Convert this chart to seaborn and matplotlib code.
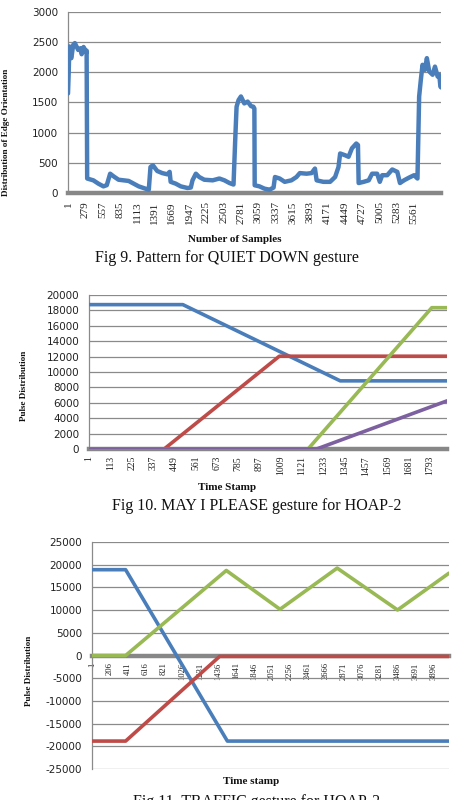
import numpy as np
import pandas as pd
import matplotlib
matplotlib.use("Agg")
import matplotlib.pyplot as plt
import seaborn as sns

# ---- Fig 9: QUIET DOWN (edge orientation per sample) ----
quiet_points = [
    (1, 1650), (12, 1985), (23, 2430), (34, 2280), (55, 2235), (84, 2455), (111, 2485),
    (165, 2370), (203, 2400), (220, 2300), (238, 2345), (251, 2420), (277, 2370),
    (296, 2330), (300, 2360), (309, 240), (408, 210), (489, 155), (570, 110), (624, 130),
    (678, 320), (732, 277), (813, 220), (975, 200), (1056, 155), (1137, 110), (1245, 72),
    (1299, 55), (1326, 430), (1364, 460), (1434, 365), (1515, 330), (1596, 310),
    (1634, 350), (1650, 185), (1731, 155), (1812, 110), (1920, 83), (1974, 90),
    (2001, 210), (2055, 320), (2109, 265), (2190, 220), (2325, 210), (2433, 240),
    (2514, 210), (2595, 165), (2660, 140), (2687, 875), (2709, 1430), (2741, 1540),
    (2779, 1600), (2833, 1485), (2887, 1515), (2941, 1440), (2979, 1430), (2995, 1400),
    (3000, 128), (3076, 110), (3157, 72), (3238, 55), (3303, 90), (3326, 265),
    (3401, 240), (3482, 185), (3590, 210), (3671, 265), (3725, 330), (3833, 320),
    (3914, 330), (3968, 405), (3995, 210), (4103, 185), (4211, 185), (4292, 265),
    (4346, 430), (4373, 655), (4454, 625), (4508, 600), (4562, 740), (4632, 820),
    (4659, 795), (4670, 165), (4751, 185), (4832, 210), (4886, 320), (4967, 320),
    (5010, 185), (5048, 295), (5129, 295), (5210, 390), (5291, 350), (5334, 165),
    (5399, 210), (5480, 255), (5561, 295), (5615, 240), (5642, 1600), (5669, 1875),
    (5696, 2125), (5734, 2040), (5766, 2235), (5804, 2015), (5858, 1960), (5896, 2095),
    (5939, 1930), (5966, 1960), (5983, 1765), (5993, 1750),
]
quiet_samples = [p[0] for p in quiet_points]
quiet_values = [p[1] for p in quiet_points]
quiet_ticks = list(range(1, 5562, 278))

# ---- Fig 10: MAY I PLEASE ----
may_series = ["S1", "S2", "S3", "S4"]
may_time = {
    "S1": [1, 494, 1321, 1882],
    "S2": [1, 396, 1001, 1882],
    "S3": [1, 1152, 1802, 1882],
    "S4": [1, 1197, 1882],
}
may_value = {
    "S1": [18750, 18750, 8850, 8850],
    "S2": [0, 0, 12050, 12050],
    "S3": [0, 0, 18350, 18350],
    "S4": [0, 0, 6250],
}
may_ticks = list(range(1, 1794, 112))

# ---- Fig 11: TRAFFIC ----
traffic_series = ["S1", "S2", "S3"]
traffic_time = {
    "S1": [1, 384, 1543, 4068],
    "S2": [1, 384, 1455, 4068],
    "S3": [1, 384, 1531, 2143, 2794, 3482, 4068],
}
traffic_value = {
    "S1": [18900, 18900, -18850, -18850],
    "S2": [-18850, -18850, -200, -200],
    "S3": [0, 0, 18730, 10180, 19250, 10030, 18140],
}
traffic_ticks = list(range(1, 3897, 205))

blue, red, green, purple = "#4A7EBB", "#BE4B48", "#98B954", "#7D60A0"
grid_c = "#8a8a8a"
bar_c = "#878787"

sns.set_style("white")
plt.rcParams["font.family"] = ["DejaVu Sans"]

W, H = 454, 800
fig = plt.figure(figsize=(W / 100, H / 100), dpi=100)


def px_axes(left, top, right, bottom):
    return fig.add_axes([left / W, 1 - bottom / H, (right - left) / W, (bottom - top) / H])


def long_frame(series, times, values):
    rows = []
    for s in series:
        for t, v in zip(times[s], values[s]):
            rows.append((s, t, v))
    return pd.DataFrame(rows, columns=["series", "time", "value"])


def style(ax, yticks, xticks, ytick_size, xtick_size, xpad):
    # spine position first: moving the spine resets the tick objects
    for s in ["top", "right"]:
        ax.spines[s].set_visible(False)
    ax.spines["left"].set_color(grid_c)
    ax.spines["left"].set_linewidth(0.9)
    ax.spines["bottom"].set_position(("data", 0))
    ax.spines["bottom"].set_color(bar_c)
    ax.spines["bottom"].set_linewidth(3.2)
    ax.spines["bottom"].set_zorder(1.5)
    ax.set_yticks(yticks)
    ax.set_yticklabels([str(t) for t in yticks], fontsize=ytick_size, color="#222222")
    ax.set_xticks(xticks)
    ax.set_xticklabels([str(t) for t in xticks], rotation=90, fontsize=xtick_size,
                       family="Liberation Serif", color="#222222")
    ax.grid(axis="y", color=grid_c, lw=0.9)
    ax.grid(axis="x", visible=False)
    ax.set_axisbelow(True)
    ax.tick_params(axis="y", length=3, color=grid_c, pad=4)
    ax.tick_params(axis="x", length=0, pad=xpad)
    ax.set_xlabel("")
    ax.set_ylabel("")


# Panel 1
ax1 = px_axes(68, 12, 441, 193)
sns.lineplot(x=quiet_samples, y=quiet_values, ax=ax1, color=blue, lw=3.2,
             estimator=None, sort=False, zorder=3)
ax1.set_xlim(1, 5993)
ax1.set_ylim(0, 3000)
style(ax1, list(range(0, 3001, 500)), quiet_ticks, 7.5, 8, 6)

# Panel 2
ax2 = px_axes(89, 295, 447, 449)
df2 = long_frame(may_series, may_time, may_value)
sns.lineplot(data=df2, x="time", y="value", hue="series", ax=ax2,
             palette=[blue, red, green, purple], lw=2.6, estimator=None,
             legend=False, zorder=3)
ax2.set_xlim(1, 1882)
ax2.set_ylim(0, 20000)
style(ax2, list(range(0, 20001, 2000)), may_ticks, 7.5, 7, 5)

# Panel 3
ax3 = px_axes(92, 542, 449, 769)
df3 = long_frame(traffic_series, traffic_time, traffic_value)
sns.lineplot(data=df3, x="time", y="value", hue="series", ax=ax3,
             palette=[blue, red, green], lw=2.6, estimator=None,
             legend=False, zorder=3)
ax3.set_xlim(1, 4068)
ax3.set_ylim(-25000, 25000)
style(ax3, list(range(-25000, 25001, 5000)), traffic_ticks, 7.5, 6.2, 5)

# Axis titles
lab = dict(family="Liberation Serif", fontweight="bold", color="#111111")
fig.text(235 / W, 1 - 240 / H, "Number of Samples", fontsize=8, ha="center", va="center", **lab)
fig.text(6 / W, 1 - 132 / H, "Distribution of Edge Orientation", fontsize=6.6,
         rotation=90, ha="center", va="center", **lab)
fig.text(227 / W, 1 - 488 / H, "Time Stamp", fontsize=8, ha="center", va="center", **lab)
fig.text(24 / W, 1 - 386 / H, "Pulse Distribution", fontsize=6.6,
         rotation=90, ha="center", va="center", **lab)
fig.text(251 / W, 1 - 782 / H, "Time stamp", fontsize=8, ha="center", va="center", **lab)
fig.text(29 / W, 1 - 671 / H, "Pulse Distribution", fontsize=6.6,
         rotation=90, ha="center", va="center", **lab)

# Captions
cap = dict(family="Liberation Serif", fontsize=11.5, ha="center", va="top", color="#111111")
fig.text(227 / W, 1 - 250 / H, "Fig 9. Pattern for QUIET DOWN gesture", **cap)
fig.text(257 / W, 1 - 498 / H, "Fig 10. MAY I PLEASE gesture for HOAP-2", **cap)
fig.text(257 / W, 1 - 794 / H, "Fig 11. TRAFFIC gesture for HOAP-2", **cap)

fig.savefig("out.png", dpi=100, facecolor="white")
